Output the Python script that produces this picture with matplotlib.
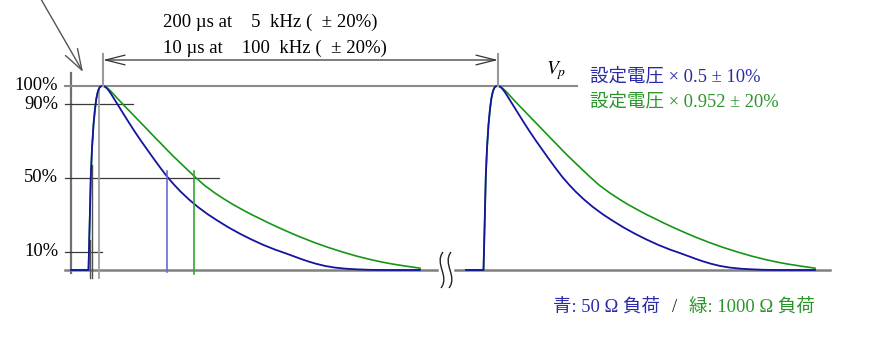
import matplotlib.pyplot as plt
from matplotlib.patches import FancyArrowPatch, PathPatch
from matplotlib.path import Path

plt.rcParams['mathtext.fontset'] = 'stix'

# pulse shape: time offset from the peak (diagram units) and % of Vp
rise_dt = [-32, -14.5, -13.8, -13.0, -12.2, -11.0, -9.5, -8.0, -6.7, -5.5,
           -4.5, -3.5, -2.5, -1.2, 0]
rise_pct = [0, 0, 15, 33, 51, 66, 79, 87.5, 93, 96.2, 98, 99.1, 99.7, 99.95, 100]

blue_dt = [0, 2, 4, 7, 10, 14, 18, 22, 27, 32, 38, 44, 50, 57, 64, 71, 78, 86,
           95, 105, 114, 125, 137, 148, 160, 172, 182, 190, 197, 205, 213, 222,
           232, 243, 254, 266, 280, 317]
blue_pct = [100, 99.6, 98.7, 96.6, 94.0, 90.5, 87.0, 83.5, 79.2, 75.0, 70.2,
            65.6, 61.0, 55.8, 50.8, 46.4, 42.4, 38.3, 34.2, 30.2, 27.0, 23.3,
            19.7, 16.7, 13.7, 11.1, 9.2, 7.6, 6.2, 4.7, 3.4, 2.2, 1.3, 0.7,
            0.35, 0.1, 0, 0]

green_dt = [0, 2, 4, 7, 10, 14, 18, 22, 27, 33, 40, 46, 52, 58, 64, 70, 80, 90,
            101, 112, 121, 130, 140, 149, 157, 164, 173, 182, 190, 197, 211,
            225, 240, 254, 268, 280, 290, 303, 317]
green_pct = [100, 99.7, 99.0, 97.6, 95.9, 93.5, 91.2, 88.9, 86.1, 82.7, 78.8,
             75.4, 72.0, 68.7, 65.3, 62.0, 56.8, 51.6, 46.2, 41.8, 38.6, 35.6,
             32.6, 30.0, 27.9, 26.0, 23.7, 21.5, 19.6, 18.0, 15.0, 12.3, 9.7,
             7.5, 5.6, 4.2, 3.2, 2.1, 1.0]

peaks = [103, 498]
half_dt = {'blue': 64, 'green': 91}
level_pct = [100, 90, 50, 10]
level_labels = ['100%', '90%', '50%', '10%']

BLUE = '#1414a0'
GREEN = '#169616'
SERIF = ['Liberation Serif', 'Noto Sans CJK JP', 'DejaVu Sans']
FS = 13.3


def yp(py):
    # pixel row in the original layout -> percent of Vp
    return (270 - py) / 1.84


fig = plt.figure(figsize=(8.88, 3.45), dpi=100)
ax = fig.add_axes([0, 0, 1, 1])
ax.set_xlim(0, 888)
ax.set_ylim(yp(345), yp(0))
ax.axis('off')

# axes and level lines
ax.plot([71, 71], [yp(73), yp(273)], color='#707070', lw=1.6)
ax.plot([65, 437], [0, 0], color='#808080', lw=1.8)
ax.plot([455, 830], [0, 0], color='#808080', lw=1.8)
level_end = [577, 133, 219, 102]
for p, lab, xe in zip(level_pct, level_labels, level_end):
    if p == 100:
        ax.plot([65, xe], [p, p], color='#8a8a8a', lw=1.5)
    else:
        ax.plot([65, xe], [p, p], color='#3a3a3a', lw=0.9)
    ax.text(58, p, lab, ha='right', va='center', fontsize=FS, family=SERIF)

# timing markers at the first rising edge
ax.plot([89.5, 89.5], [yp(240), yp(278)], color='#505050', lw=1.0)
ax.plot([92, 92], [yp(165), yp(278)], color='#505050', lw=1.0)
ax.plot([98.5, 98.5], [yp(90), yp(278)], color='#a0a0a0', lw=1.3)

# pulses
for pk in peaks:
    gx = [pk + d for d in rise_dt + green_dt[1:]]
    gy = rise_pct + green_pct[1:]
    ax.plot(gx, gy, color=GREEN, lw=1.2)
    bx = [pk + d for d in rise_dt + blue_dt[1:]]
    by = rise_pct + blue_pct[1:]
    ax.plot(bx, by, color=BLUE, lw=1.3)

# 50 % markers
ax.plot([peaks[0] + half_dt['blue']] * 2, [yp(171), yp(272)], color='#6a6ad8', lw=1.2)
ax.plot([peaks[0] + half_dt['green']] * 2, [yp(171), yp(274)], color='#35a535', lw=1.2)

# period dimension
for pk in peaks:
    ax.plot([pk, pk], [yp(54), yp(86)], color='#9a9a9a', lw=1.5)
ax.add_patch(FancyArrowPatch((peaks[0], yp(60)), (peaks[1], yp(60)),
                             arrowstyle='<->,head_length=1.4,head_width=0.35',
                             mutation_scale=10, color='#333333', lw=0.9,
                             shrinkA=0, shrinkB=0))
ax.text(163, yp(22), '200 µs at    5  kHz (  ± 20%)', ha='left', va='center',
        fontsize=13.5, family=SERIF)
ax.text(163, yp(48), '10 µs at    100  kHz (  ± 20%)', ha='left', va='center',
        fontsize=13.5, family=SERIF)

# pointer arrow
ax.add_patch(FancyArrowPatch((38, yp(-6)), (83, yp(72)),
                             arrowstyle='->,head_length=1.5,head_width=0.5',
                             mutation_scale=10, color='#555555', lw=1.0,
                             shrinkA=0, shrinkB=0))

# Vp and amplitude notes
ax.text(556, yp(71), '$V_p$', ha='center', va='center', fontsize=14)
ax.text(590, yp(77), '設定電圧 × 0.5 ± 10%', ha='left', va='center',
        fontsize=FS, family=SERIF, color='#2a2aa6')
ax.text(590, yp(102), '設定電圧 × 0.952 ± 20%', ha='left', va='center',
        fontsize=FS, family=SERIF, color='#2a962a')

# load note
ax.text(553, yp(307), '青: 50 Ω 負荷', ha='left', va='center',
        fontsize=FS, family=SERIF, color='#2a2aa6')
ax.text(675, yp(307), '/', ha='center', va='center',
        fontsize=FS, family=SERIF, color='#222222')
ax.text(689, yp(307), '緑: 1000 Ω 負荷', ha='left', va='center',
        fontsize=FS, family=SERIF, color='#2a962a')

# axis break marks
for x0 in [441, 449]:
    verts = [(x0 + 2, yp(252)), (x0 - 7, yp(264)), (x0 + 9, yp(276)), (x0, yp(288))]
    codes = [Path.MOVETO, Path.CURVE4, Path.CURVE4, Path.CURVE4]
    ax.add_patch(PathPatch(Path(verts, codes), fill=False, color='#222222', lw=1.0))

fig.savefig('out.png', dpi=100)
